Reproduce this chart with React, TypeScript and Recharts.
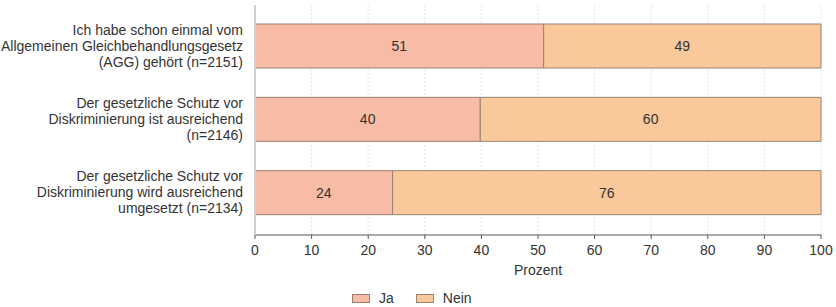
import React from 'react';
import { BarChart, Bar, XAxis, YAxis, CartesianGrid, LabelList } from 'recharts';

const categories = [
  'Ich habe schon einmal vom\nAllgemeinen Gleichbehandlungsgesetz\n(AGG) gehört (n=2151)',
  'Der gesetzliche Schutz vor\nDiskriminierung ist ausreichend\n(n=2146)',
  'Der gesetzliche Schutz vor\nDiskriminierung wird ausreichend\numgesetzt (n=2134)',
];
const jaValues = [51, 39.8, 24.3];
const neinValues = [49, 60.2, 75.7];
const xTicks = [0, 10, 20, 30, 40, 50, 60, 70, 80, 90, 100];
const seriesNames = ['Ja', 'Nein'];

const JA_COLOR = '#f8bba6';
const NEIN_COLOR = '#f9c99c';
const STROKE = '#9a8070';
const FONT = 'Liberation Sans, Arial, sans-serif';

const data = categories.map((c, i) => ({ cat: c, ja: jaValues[i], nein: neinValues[i] }));

const YTick = (props: any) => {
  const { x, y, payload } = props;
  const lines: string[] = String(payload.value).split('\n');
  const lh = 16;
  const start = -((lines.length - 1) * lh) / 2;
  return (
    <text x={x} y={y} textAnchor="end" fontSize={14} fill="#333" fontFamily={FONT}>
      {lines.map((l, i) => (
        <tspan key={i} x={x} y={y + start + i * lh} dy="0.35em">
          {l}
        </tspan>
      ))}
    </text>
  );
};

export default function App() {
  if (typeof document !== 'undefined') document.body.style.margin = '0';
  return (
    <div style={{ position: 'relative', width: 836, height: 307, fontFamily: FONT, background: '#fff', overflow: 'hidden' }}>
      <BarChart
        width={836}
        height={307}
        data={data}
        layout="vertical"
        margin={{ top: 5, right: 15, left: 0, bottom: 32 }}
        barSize={44}
      >
        <CartesianGrid horizontal={false} vertical stroke="#e3e3e3" strokeDasharray="2 2" />
        <XAxis
          type="number"
          domain={[0, 100]}
          ticks={xTicks}
          interval={0}
          height={40}
          tickSize={4}
          tickMargin={6}
          axisLine={{ stroke: '#555' }}
          tickLine={{ stroke: '#555' }}
          tick={{ fontSize: 14, fill: '#333', fontFamily: FONT }}
          label={{ value: 'Prozent', position: 'insideBottom', offset: 0, fontSize: 14, fill: '#333', fontFamily: FONT }}
        />
        <YAxis
          type="category"
          dataKey="cat"
          width={255}
          padding={{ top: 4, bottom: 6 }}
          tickLine={false}
          axisLine={{ stroke: '#d0d0d0', strokeWidth: 2 }}
          tick={<YTick />}
          tickMargin={6}
          interval={0}
        />
        <Bar dataKey="ja" name={seriesNames[0]} stackId="a" fill={JA_COLOR} stroke={STROKE} strokeWidth={1} isAnimationActive={false}>
          <LabelList dataKey="ja" position="center" formatter={(v: any) => Math.round(Number(v))} fill="#333" fontSize={14} fontFamily={FONT} />
        </Bar>
        <Bar dataKey="nein" name={seriesNames[1]} stackId="a" fill={NEIN_COLOR} stroke={STROKE} strokeWidth={1} isAnimationActive={false}>
          <LabelList dataKey="nein" position="center" formatter={(v: any) => Math.round(Number(v))} fill="#333" fontSize={14} fontFamily={FONT} />
        </Bar>
      </BarChart>
      <div style={{ position: 'absolute', left: 352, top: 290, display: 'flex', alignItems: 'center', fontSize: 14, color: '#333', lineHeight: '16px' }}>
        <span style={{ display: 'inline-block', width: 16, height: 7, background: JA_COLOR, border: `1px solid ${STROKE}`, marginRight: 9 }} />
        <span style={{ marginRight: 22 }}>{seriesNames[0]}</span>
        <span style={{ display: 'inline-block', width: 16, height: 7, background: NEIN_COLOR, border: `1px solid ${STROKE}`, marginRight: 9 }} />
        <span>{seriesNames[1]}</span>
      </div>
    </div>
  );
}
